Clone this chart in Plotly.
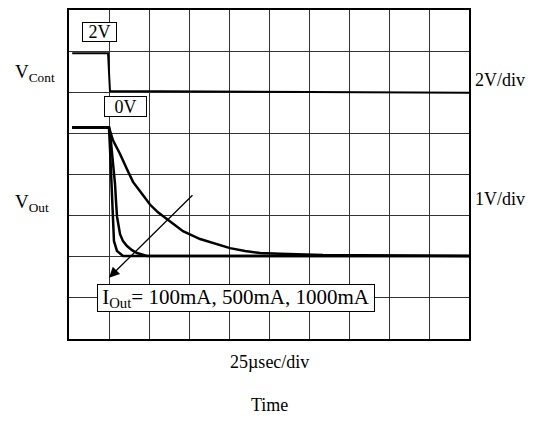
import plotly.graph_objects as go

# time in usec (25 usec/div), vertical position in divisions from the bottom
t_cont = [2, 24.4, 25.6, 250]
v_cont = [6.95, 6.95, 6.03, 5.99]

# I_out = 100mA (slowest fall)
t_100 = [2, 25, 27.5, 31.9, 36.25, 40, 45, 50.6, 55.6, 61.25, 71.25, 81.9, 92.5,
         100.6, 110, 119.4, 131.9, 144.4, 158.75, 250]
v_100 = [5.14, 5.14, 4.83, 4.50, 4.13, 3.82, 3.56, 3.27, 3.08, 2.91, 2.62, 2.43, 2.31,
         2.21, 2.14, 2.09, 2.07, 2.05, 2.04, 2.02]

# I_out = 500mA
t_500 = [2, 25, 26.25, 27.5, 28.75, 29.4, 30, 31.9, 33.75, 36.25, 39.4, 42.5, 48.75, 250]
v_500 = [5.14, 5.14, 4.78, 4.30, 3.77, 3.34, 2.98, 2.55, 2.38, 2.26, 2.16, 2.09, 2.02, 2.02]

# I_out = 1000mA
t_1000 = [2, 25, 25.6, 26.25, 26.9, 27.5, 28.1, 30, 31.9, 33.75, 250]
v_1000 = [5.14, 5.14, 4.66, 4.06, 3.34, 2.74, 2.38, 2.14, 2.07, 2.02, 2.02]

serif = "Liberation Serif, Times New Roman, serif"
font = dict(family=serif, size=18, color="black")

fig = go.Figure()
fig.add_trace(go.Scatter(x=t_cont, y=v_cont, mode="lines", line=dict(color="black", width=2)))
for tt, vv in [(t_100, v_100), (t_500, v_500), (t_1000, v_1000)]:
    fig.add_trace(go.Scatter(x=tt, y=vv, mode="lines", line=dict(color="black", width=2.5)))

fig.update_xaxes(range=[0, 250], dtick=25, showticklabels=False, showgrid=True,
                 gridcolor="#333", gridwidth=1, zeroline=False,
                 showline=True, linecolor="black", linewidth=2, mirror=True)
fig.update_yaxes(range=[0, 8], dtick=1, showticklabels=False, showgrid=True,
                 gridcolor="#333", gridwidth=1, zeroline=False,
                 showline=True, linecolor="black", linewidth=2, mirror=True)

box = dict(showarrow=False, bgcolor="white", bordercolor="black", borderwidth=1, borderpad=0)
fig.add_annotation(x=18.75, y=7.46, text="2V", font=font, width=33, height=18, **box)
fig.add_annotation(x=35.6, y=5.66, text="0V", font=font, width=41, height=19, **box)
fig.add_annotation(x=104.4, y=1.0, text="I<sub>Out</sub>= 100mA, 500mA, 1000mA",
                   font=dict(family=serif, size=21, color="black"),
                   width=276, height=26, **box)

# arrow across the three curves
fig.add_annotation(x=25, y=1.49, ax=78.1, ay=3.53, xref="x", yref="y", axref="x", ayref="y",
                   text="", showarrow=True, arrowhead=2, arrowsize=1.6, arrowwidth=1.3,
                   arrowcolor="black")

vfont = dict(family=serif, size=19, color="black")
fig.add_annotation(x=-0.14, y=6.47, xanchor="left", text="V<sub>Cont</sub>", font=vfont,
                   showarrow=False, xref="paper", yref="y")
fig.add_annotation(x=-0.14, y=3.3, xanchor="left", text="V<sub>Out</sub>", font=vfont,
                   showarrow=False, xref="paper", yref="y")
fig.add_annotation(x=1.01, y=6.30, xanchor="left", text="2V/div", font=font,
                   showarrow=False, xref="paper", yref="y")
fig.add_annotation(x=1.01, y=3.41, xanchor="left", text="1V/div", font=font,
                   showarrow=False, xref="paper", yref="y")

fig.add_annotation(x=0.5, y=-0.07, xref="paper", yref="paper", showarrow=False,
                   yanchor="middle", text="25µsec/div", font=font)
fig.add_annotation(x=0.5, y=-0.202, xref="paper", yref="paper", showarrow=False,
                   yanchor="middle", text="Time", font=font)

# page has an 8px body margin, so margins are shifted to line the grid up
fig.update_layout(width=547, height=421, showlegend=False,
                  margin=dict(l=61, r=86, t=0, b=90),
                  plot_bgcolor="white", paper_bgcolor="white")

fig.write_html("out.html")
